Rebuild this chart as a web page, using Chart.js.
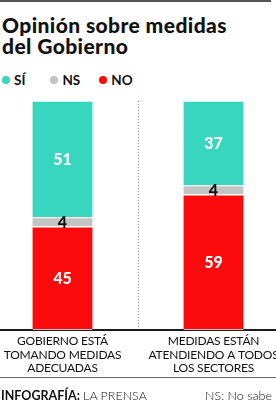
<!DOCTYPE html>
<html><head><meta charset="utf-8">
<script src="https://cdn.jsdelivr.net/npm/chart.js@4"></script>
<style>
html,body{margin:0;padding:0;background:#fff;width:276px;height:400px;overflow:hidden;position:relative;font-family:Lato,"Open Sans",sans-serif;}
#topline{position:absolute;left:0;top:0;width:271px;height:2px;background:#555;}
#title{position:absolute;left:2px;top:14px;font-weight:900;font-size:21px;line-height:21px;color:#111;letter-spacing:0.4px;}
#legend{position:absolute;left:2px;top:72px;font-weight:700;font-size:13.5px;color:#111;display:flex;}
#legend span.item{display:flex;align-items:center;margin-right:0;}
#legend span.dot{display:inline-block;width:8px;height:8px;border-radius:50%;margin-right:4px;}
#wrap{position:absolute;left:-13px;top:60px;width:302px;height:324px;}
#botline{position:absolute;left:0;top:377px;width:276px;height:1px;background:#666;}
#foot{position:absolute;left:1px;top:388px;font-size:12.5px;color:#111;}
#foot b{font-weight:700;}
#ns{position:absolute;right:4px;top:388px;font-size:12.5px;color:#111;font-weight:300;}
</style></head>
<body>
<div id="topline"></div>
<div id="title">Opinión sobre medidas<br>del Gobierno</div>
<div id="legend"></div>
<div id="wrap"><canvas id="c" width="302" height="324"></canvas></div>
<div id="botline"></div>
<div id="foot"><b>INFOGRAFÍA:</b> <span style="font-weight:300">LA PRENSA</span></div>
<div id="ns">NS: No sabe</div>
<script>
const categories = [["GOBIERNO ESTÁ","TOMANDO MEDIDAS","ADECUADAS"],["MEDIDAS ESTÁN","ATENDIENDO A TODOS","LOS SECTORES"]];
const seriesNames = ["SÍ","NS","NO"];
const siValues = [51, 37];
const nsValues = [4, 4];
const noValues = [45, 59];
const colors = {"SÍ":"#38d6bf","NS":"#c4c4c4","NO":"#fa0a0a"};
const labelColors = {"SÍ":"#ffffff","NS":"#111111","NO":"#ffffff"};

// HTML legend
const lg = document.getElementById('legend');
const gaps = [25, 19, 0];
seriesNames.forEach((n,i)=>{
  const s=document.createElement('span');s.className='item';s.style.marginRight=gaps[i]+'px';
  s.innerHTML='<span class="dot" style="background:'+colors[n]+'"></span>'+n;
  lg.appendChild(s);
});

const tightTicks = {
  id:'tightTicks',
  beforeDraw(chart){ chart.ctx.letterSpacing='-0.2px'; },
  beforeDatasetsDraw(chart){ chart.ctx.letterSpacing='0px'; }
};

const valueLabels = {
  id:'valueLabels',
  afterDatasetsDraw(chart){
    const ctx=chart.ctx;
    chart.data.datasets.forEach((ds,di)=>{
      const meta=chart.getDatasetMeta(di);
      meta.data.forEach((bar,i)=>{
        const v=ds.data[i];
        const cy=(bar.y+bar.base)/2;
        ctx.save();
        ctx.font='900 16px Lato';
        ctx.fillStyle=labelColors[ds.label];
        ctx.textAlign='center';ctx.textBaseline='middle';
        ctx.fillText(String(v),bar.x,cy+1);
        ctx.restore();
      });
    });
  }
};

new Chart(document.getElementById('c'),{
  type:'bar',
  data:{labels:categories,datasets:[
    {label:"NO",data:noValues,backgroundColor:colors["NO"]},
    {label:"NS",data:nsValues,backgroundColor:colors["NS"]},
    {label:"SÍ",data:siValues,backgroundColor:colors["SÍ"]}
  ].map(d=>Object.assign(d,{borderColor:'#fff',borderWidth:{top:1,bottom:1,left:0,right:0},borderSkipped:false,barThickness:60}))},
  options:{
    responsive:false,animation:false,
    layout:{padding:{top:41,bottom:4,left:0,right:0}},
    plugins:{legend:{display:false},tooltip:{enabled:false}},
    scales:{
      x:{stacked:true,
        grid:{display:true,drawTicks:false,color:'#999',lineWidth:1},
        border:{display:true,color:'#1a1a1a',width:2,dash:[1,2]},
        ticks:{color:'#111',font:{family:'Lato',size:12,weight:'400',lineHeight:1.12},padding:5,maxRotation:0,autoSkip:false}
      },
      y:{stacked:true,display:false,min:0,max:100}
    }
  },
  plugins:[tightTicks,valueLabels]
});
</script>
</body></html>
